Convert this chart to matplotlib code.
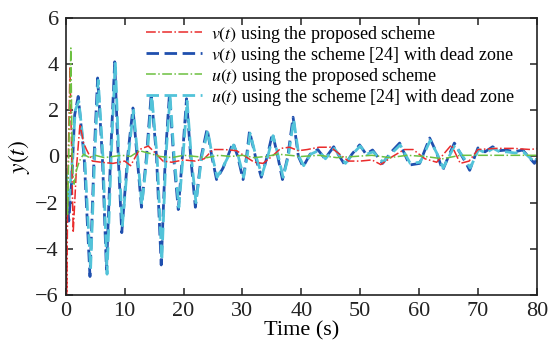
import matplotlib.pyplot as plt
import numpy as np

plt.rcParams['font.family'] = ['Liberation Serif', 'DejaVu Serif']
plt.rcParams['mathtext.fontset'] = 'stix'

# v(t), proposed scheme
t_v_prop = [0, 0.15, 0.35, 0.7, 1.25, 1.8, 2.4, 3.0, 3.5, 4.5, 6, 8, 10, 11, 12.5, 14, 15,
            16.5, 18, 20, 22, 23.5, 25, 27, 29, 30.5, 32, 33.5, 35, 36.5, 38, 39.5, 41, 43,
            45, 46.5, 48, 50, 52, 53.5, 55.5, 57.5, 59, 61, 63, 64.5, 65.5, 67, 68.5, 70,
            73, 76, 79, 80]
v_prop = [0, -6, -1, 3.9, -3.3, -0.5, 1.4, 0.6, 0.3, -0.2, -0.25, -0.3, -0.2, -0.4, 0.3,
          0.45, 0.2, -0.2, -0.25, -0.15, -0.2, -0.1, 0.3, 0.3, 0.25, 0.0, -0.25, -0.3, 0.0,
          0.35, 0.4, 0.25, 0.3, 0.4, 0.4, 0.1, -0.2, -0.2, -0.15, -0.35, 0.0, 0.3, 0.3,
          -0.1, -0.25, 0.2, 0.5, -0.3, -0.2, 0.3, 0.35, 0.35, 0.3, 0.35]

# v(t), scheme [24] with dead zone
t_v_ref = [0, 0.5, 1.0, 1.5, 2.1, 3.1, 4.1, 4.8, 5.4, 6.2, 6.9, 7.6, 8.3, 8.9, 9.5, 10.5,
           11.4, 12.1, 12.85, 13.7, 14.5, 15.4, 16.2, 16.9, 17.6, 18.3, 19.1, 19.8, 20.5,
           21.2, 22.0, 23.0, 24.0, 24.8, 25.6, 26.7, 27.5, 28.4, 29.2, 30.1, 30.7, 31.2,
           32.2, 33.2, 34.2, 35.1, 36.0, 36.8, 37.7, 38.6, 39.5, 40.3, 41.5, 42.8, 44.0,
           45.5, 46.5, 47.4, 48.6, 49.9, 51.0, 52.1, 53.8, 55.3, 56.7, 58.4, 60.1, 61.8,
           63.0, 64.0, 65.0, 66.0, 68.0, 68.6, 70.0, 71.2, 72.5, 73.6, 74.8, 76.2, 77.6,
           79.6, 80]
v_ref = [-0.8, -2.8, -1.0, 1.8, 2.6, 0.0, -5.2, 0.0, 3.4, 0.0, -4.9, 0.0, 4.1, 0.0, -3.3,
         0.0, 2.1, 0.0, -2.2, 0.0, 2.7, 0.0, -4.7, 0.0, 2.7, 0.0, -2.3, 0.0, 2.5, 0.0, -2.2,
         0.0, 1.2, 0.0, -1.0, -0.5, 0.0, 0.6, 0.0, -1.0, 0.0, 1.1, 0.0, -0.9, 0.0, 1.0, 0.0,
         -1.0, 0.0, 1.7, 0.0, -0.45, 0.1, 0.3, -0.1, 0.42, 0.0, -0.37, 0.1, 0.5, 0.1, 0.28,
         -0.3, 0.2, 0.58, -0.37, -0.3, 0.8, 0.15, -0.6, 0.0, 0.58, -0.3, -0.6, 0.37, 0.2,
         0.42, 0.25, 0.28, 0.2, 0.28, -0.3, -0.1]

# u(t), proposed scheme
t_u_prop = [0, 0.3, 0.6, 0.85, 1.1, 1.4, 1.8, 2.3, 3.0, 4, 5, 6.5, 8, 9.5, 11, 12.5, 14,
            16, 18, 20, 22, 24, 26, 28, 30, 32, 34, 36, 38, 40, 43, 46, 49, 52, 55, 58, 61,
            64, 67, 70, 73, 76, 80]
u_prop = [0, -2.5, 1.5, 4.7, -0.5, -1.2, -0.6, -0.2, 0.1, -0.05, 0.05, -0.05, 0.0, 0.05,
          0.0, 0.25, 0.15, 0.0, -0.05, 0.05, 0.0, -0.05, 0.05, 0.0, 0.05, -0.05, 0.0, 0.1,
          0.05, 0.0, 0.05, -0.05, 0.0, 0.05, -0.05, 0.05, 0.0, -0.1, 0.05, 0.05, 0.05, 0.05,
          0.05]

# u(t), scheme [24] with dead zone
t_u_ref = [0, 0.5, 1.0, 1.6, 2.2, 3.2, 4.2, 4.9, 5.5, 6.3, 7.0, 7.7, 8.4, 9.0, 9.6, 10.6,
           11.5, 12.2, 12.9, 13.8, 14.6, 15.5, 16.3, 17.0, 17.7, 18.4, 19.2, 19.9, 20.6,
           21.3, 22.1, 23.1, 24.1, 24.9, 25.7, 26.8, 27.6, 28.5, 29.3, 30.2, 30.8, 31.3,
           32.3, 33.3, 34.3, 35.2, 36.1, 36.9, 37.8, 38.7, 39.6, 40.4, 41.6, 42.9, 44.1,
           45.6, 46.6, 47.5, 48.7, 50.0, 51.1, 52.2, 53.9, 55.4, 56.8, 58.5, 60.2, 61.9,
           63.1, 64.1, 65.1, 66.1, 68.1, 68.7, 70.1, 71.3, 72.6, 73.7, 74.9, 76.3, 77.7,
           79.7, 80]
u_ref = [-0.5, -2.0, -0.5, 2.0, 2.4, 0.0, -4.9, 0.0, 3.3, 0.0, -5.1, 0.0, 4.1, 0.0, -3.0,
         0.0, 2.0, 0.0, -2.1, 0.0, 2.6, 0.0, -4.5, 0.0, 2.6, 0.0, -2.2, 0.0, 2.4, 0.0, -2.0,
         0.0, 1.1, 0.0, -0.9, -0.4, 0.0, 0.5, 0.0, -0.9, 0.0, 1.0, 0.0, -0.8, 0.0, 0.9, 0.0,
         -0.9, 0.0, 1.6, 0.0, -0.4, 0.1, 0.25, -0.1, 0.35, 0.0, -0.3, 0.1, 0.45, 0.1, 0.2,
         -0.25, 0.15, 0.5, -0.3, -0.25, 0.7, 0.1, -0.5, 0.0, 0.5, -0.25, -0.5, 0.3, 0.15,
         0.35, 0.2, 0.2, 0.15, 0.2, -0.25, -0.1]

fig, ax = plt.subplots(figsize=(5.58, 3.52), dpi=100)
fig.subplots_adjust(left=0.118, right=0.962, top=0.949, bottom=0.162)

l2, = ax.plot(t_v_ref, v_ref, color='#1f4fae', lw=2, dashes=(4.5, 2),
              label='$v(t)$ using the scheme [24] with dead zone')
l4, = ax.plot(t_u_ref, u_ref, color='#52c3d9', lw=2, dashes=(4.5, 2),
              label='$u(t)$ using the scheme [24] with dead zone')
l1, = ax.plot(t_v_prop, v_prop, color='#ea2b2b', lw=1.1, linestyle='-.',
              label='$v(t)$ using the proposed scheme')
l3, = ax.plot(t_u_prop, u_prop, color='#6cc040', lw=1.1, linestyle='-.',
              label='$u(t)$ using the proposed scheme')

ax.set_xlim(0, 80)
ax.set_ylim(-6, 6)
ax.set_xticks(np.arange(0, 81, 10))
ax.set_yticks(np.arange(-6, 7, 2))
for s in ax.spines.values():
    s.set_linewidth(1.2)
    s.set_color('#222222')
ax.tick_params(direction='in', top=True, right=True, labelsize=16, length=5,
               width=1.1, colors='#222222', pad=5)
ax.set_xlabel('Time (s)', fontsize=16, labelpad=0)
ax.set_ylabel('$y(t)$', fontsize=17, labelpad=2)

ax.legend(handles=[l1, l2, l3, l4], loc='upper left', bbox_to_anchor=(0.155, 1.005),
          frameon=False, fontsize=13, handlelength=3.1, handletextpad=0.5,
          labelspacing=0.0, borderaxespad=0)

plt.savefig('out.png', dpi=100)
